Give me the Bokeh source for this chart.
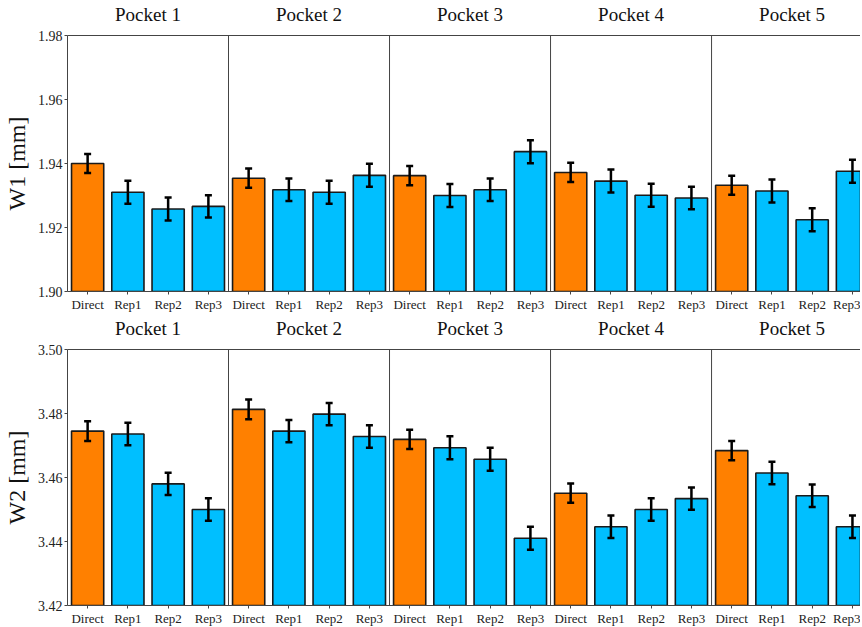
from bokeh.plotting import figure
from bokeh.layouts import column
from bokeh.models import (ColumnDataSource, FixedTicker, Span, Whisker, TeeHead,
                          CustomJSTickFormatter, LinearAxis, Range1d, PrintfTickFormatter)
from bokeh.embed import file_html
from bokeh.resources import INLINE

pockets = ["Pocket 1", "Pocket 2", "Pocket 3", "Pocket 4", "Pocket 5"]
methods = ["Direct", "Rep1", "Rep2", "Rep3"]

w1_vals = [1.9400, 1.9310, 1.9258, 1.9266,
           1.9354, 1.9318, 1.9310, 1.9363,
           1.9362, 1.9300, 1.9318, 1.9437,
           1.9372, 1.9345, 1.9301, 1.9292,
           1.9332, 1.9314, 1.9224, 1.9376]
w1_err = [0.0030, 0.0036, 0.0036, 0.0035,
          0.0030, 0.0035, 0.0036, 0.0036,
          0.0030, 0.0036, 0.0035, 0.0036,
          0.0030, 0.0036, 0.0036, 0.0035,
          0.0030, 0.0036, 0.0036, 0.0036]

w2_vals = [3.4745, 3.4736, 3.4580, 3.4500,
           3.4813, 3.4745, 3.4798, 3.4728,
           3.4719, 3.4693, 3.4657, 3.4410,
           3.4551, 3.4446, 3.4500, 3.4534,
           3.4684, 3.4614, 3.4543, 3.4446]
w2_err = [0.0031, 0.0035, 0.0035, 0.0035,
          0.0031, 0.0035, 0.0035, 0.0035,
          0.0030, 0.0036, 0.0036, 0.0036,
          0.0030, 0.0035, 0.0035, 0.0035,
          0.0030, 0.0035, 0.0035, 0.0035]

w1_ticks = [1.90, 1.92, 1.94, 1.96, 1.98]
w2_ticks = [3.42, 3.44, 3.46, 3.48, 3.50]

ORANGE = "#FF8000"
BLUE = "#00BFFF"
FONT = "Liberation Serif"
nm = len(methods)


def panel(vals, errs, yticks, ylabel, top_border, frame_h):
    n = len(vals)
    xs = list(range(n))
    colors = [ORANGE if methods[i % nm] == "Direct" else BLUE for i in xs]
    src = ColumnDataSource(dict(
        x=xs, top=vals, color=colors,
        upper=[v + e for v, e in zip(vals, errs)],
        lower=[v - e for v, e in zip(vals, errs)],
    ))
    ymin, ymax = yticks[0], yticks[-1]
    p = figure(frame_width=793, frame_height=frame_h,
               output_backend="svg", toolbar_location=None,
               x_range=Range1d(-0.5, -0.5 + 19.7),
               y_range=Range1d(ymin, ymax),
               min_border_left=61, min_border_right=0,
               min_border_top=top_border, min_border_bottom=0,
               x_axis_location=None)
    p.grid.visible = False
    p.outline_line_color = None
    p.background_fill_color = "white"

    p.vbar(x="x", top="top", bottom=ymin, width=0.8, source=src,
           fill_color="color", line_color="#1a1a1a", line_width=1.6)

    w = Whisker(base="x", upper="upper", lower="lower", source=src,
                line_color="black", line_width=2.5, level="overlay",
                upper_head=TeeHead(size=7, line_width=2.5, line_color="black"),
                lower_head=TeeHead(size=7, line_width=2.5, line_color="black"))
    p.add_layout(w)

    for k in range(1, len(pockets)):
        p.add_layout(Span(location=k * nm - 0.5, dimension="height",
                          line_color="#444444", line_width=1))

    # bottom category axis
    xb = LinearAxis(ticker=FixedTicker(ticks=xs),
                    major_label_overrides={i: methods[i % nm] for i in xs})
    xb.axis_line_color = "#444444"
    xb.major_tick_line_color = "#444444"
    xb.major_tick_out = 3
    xb.major_tick_in = 0
    xb.minor_tick_line_color = None
    xb.major_label_text_font = FONT
    xb.major_label_text_font_size = "13px"
    xb.major_label_text_color = "#222222"
    xb.major_label_standoff = 2
    xb.axis_label_standoff = 0
    p.add_layout(xb, "below")

    # top axis with pocket names
    centers = [k * nm + (nm - 1) / 2 for k in range(len(pockets))]
    xt = LinearAxis(ticker=FixedTicker(ticks=centers),
                    formatter=CustomJSTickFormatter(
                        args=dict(names=pockets, n=nm),
                        code="return names[Math.round((tick - (n-1)/2) / n)];"))
    xt.axis_line_color = "#444444"
    xt.major_tick_line_color = None
    xt.minor_tick_line_color = None
    xt.major_label_text_font = FONT
    xt.major_label_text_font_size = "19px"
    xt.major_label_text_color = "#111111"
    xt.major_label_standoff = 5
    xt.axis_label_standoff = 0
    p.add_layout(xt, "above")

    ya = p.yaxis[0]
    ya.ticker = FixedTicker(ticks=yticks)
    ya.formatter = PrintfTickFormatter(format="%.2f")
    ya.axis_line_color = "#444444"
    ya.major_tick_line_color = "#444444"
    ya.major_tick_out = 3
    ya.major_tick_in = 0
    ya.minor_tick_line_color = None
    ya.major_label_text_font = FONT
    ya.major_label_text_font_size = "14px"
    ya.major_label_text_color = "#222222"
    ya.major_label_standoff = 2
    ya.axis_label = ylabel
    ya.axis_label_text_font = FONT
    ya.axis_label_text_font_size = "24px"
    ya.axis_label_text_font_style = "normal"
    ya.axis_label_text_color = "#111111"
    ya.axis_label_standoff = 5
    return p


p1 = panel(w1_vals, w1_err, w1_ticks, "W1 [mm]", 25, 256)
p2 = panel(w2_vals, w2_err, w2_ticks, "W2 [mm]", 25, 256)

p = column(p1, p2, spacing=0)
open("out.html", "w").write(file_html(p, INLINE))
